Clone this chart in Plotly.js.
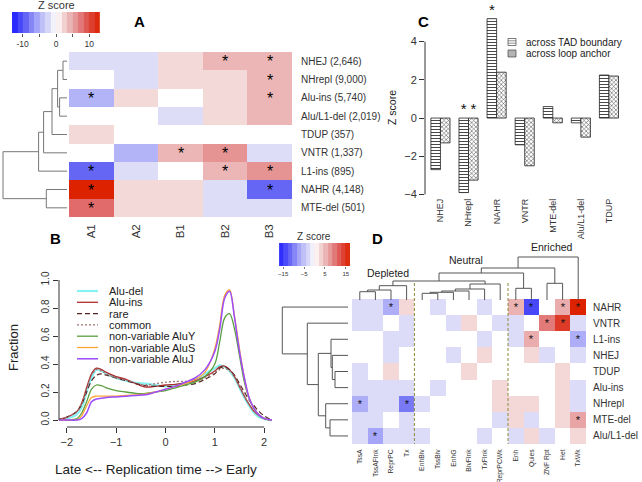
<!DOCTYPE html>
<html>
<head>
<meta charset="utf-8">
<script src="https://cdn.plot.ly/plotly-3.0.1.min.js"></script>
<style>html,body{margin:0;padding:0;background:#fff}#chart{width:642px;height:482px}</style>
</head>
<body>
<div id="chart"></div>
<script>
// ---- Panel A: Z score heatmap (rows = SV mechanism, cols = compartment)
const aCols = ['A1', 'A2', 'B1', 'B2', 'B3'];
const aRows = ['NHEJ (2,646)', 'NHrepl (9,000)', 'Alu-ins (5,740)', 'Alu/L1-del (2,019)', 'TDUP (357)',
  'VNTR (1,337)', 'L1-ins (895)', 'NAHR (4,148)', 'MTE-del (501)'];
const aZ = [
  [-2, -2, 2, 4, 4],
  [0, -2, 2, 2, 4],
  [-5, 2, 0, 2, 4],
  [0, 0, -2, 2, 4],
  [2, 0, 0, 0, 0],
  [0, -5, 4, 6, -2],
  [-9, -2, 0, 4, 6],
  [13, 2, 2, -2, -9],
  [8, 2, 2, -2, -2]
];
const aSig = [
  [0, 0, 0, 1, 1],
  [0, 0, 0, 0, 1],
  [1, 0, 0, 0, 1],
  [0, 0, 0, 0, 0],
  [0, 0, 0, 0, 0],
  [0, 0, 1, 1, 0],
  [1, 0, 0, 1, 1],
  [1, 0, 0, 0, 1],
  [1, 0, 0, 0, 0]
];
// linkage: [childA, childB, height]; new nodes numbered after the leaves
const aRowLinks = [[0, 1, 4], [2, 3, 7.4], [9, 10, 9.4], [11, 4, 15], [12, 5, 23.4], [13, 6, 28.4], [7, 8, 20.7], [14, 15, 64]];
const aKeyLevels = [-12.4, -10.7, -9.1, -7.4, -5.8, -4.1, -2.5, -0.8, 0.8, 2.5, 4.1, 5.8, 7.4, 9.1, 10.7, 12.4];

// ---- Panel B: replication time densities
const repTime = [-2.2, -2.0, -1.8, -1.7, -1.6, -1.5, -1.4, -1.3, -1.2, -1.0, -0.8, -0.6, -0.4, -0.2, 0, 0.2,
  0.4, 0.6, 0.8, 1.0, 1.1, 1.2, 1.3, 1.4, 1.5, 1.6, 1.7, 1.8, 1.9, 2.0, 2.1, 2.2];
const aluDel = [0, 0.01, 0.04, 0.09, 0.20, 0.30, 0.36, 0.35, 0.33, 0.30, 0.28, 0.265, 0.26, 0.25, 0.24, 0.25,
  0.26, 0.28, 0.33, 0.37, 0.39, 0.38, 0.35, 0.30, 0.23, 0.16, 0.10, 0.05, 0.02, 0.01, 0, 0];
const aluIns = [0, 0.02, 0.06, 0.12, 0.23, 0.33, 0.37, 0.36, 0.34, 0.31, 0.29, 0.26, 0.235, 0.24, 0.25, 0.255,
  0.265, 0.28, 0.31, 0.35, 0.38, 0.385, 0.36, 0.31, 0.24, 0.17, 0.11, 0.06, 0.03, 0.01, 0.003, 0];
const rare = [0, 0.02, 0.06, 0.11, 0.20, 0.28, 0.32, 0.33, 0.32, 0.30, 0.28, 0.26, 0.245, 0.24, 0.24, 0.24,
  0.25, 0.26, 0.29, 0.33, 0.37, 0.38, 0.36, 0.32, 0.26, 0.20, 0.14, 0.10, 0.06, 0.03, 0.01, 0.003];
const common = [0, 0.02, 0.06, 0.12, 0.22, 0.32, 0.36, 0.35, 0.33, 0.30, 0.285, 0.265, 0.25, 0.26, 0.27, 0.275,
  0.275, 0.28, 0.30, 0.34, 0.36, 0.37, 0.35, 0.31, 0.24, 0.17, 0.11, 0.06, 0.03, 0.01, 0, 0];
const aluY = [0, 0, 0.01, 0.05, 0.13, 0.22, 0.25, 0.245, 0.23, 0.21, 0.20, 0.19, 0.19, 0.20, 0.21, 0.23,
  0.25, 0.27, 0.31, 0.40, 0.56, 0.73, 0.76, 0.65, 0.46, 0.27, 0.15, 0.08, 0.035, 0.012, 0.003, 0];
const aluS = [0, 0, 0, 0.03, 0.10, 0.16, 0.17, 0.17, 0.17, 0.17, 0.175, 0.18, 0.185, 0.20, 0.22, 0.24,
  0.26, 0.29, 0.34, 0.51, 0.68, 0.89, 0.93, 0.74, 0.51, 0.30, 0.155, 0.08, 0.035, 0.012, 0.003, 0];
const aluJ = [0, 0, 0, 0.01, 0.05, 0.13, 0.15, 0.155, 0.16, 0.165, 0.17, 0.175, 0.18, 0.20, 0.22, 0.24,
  0.27, 0.30, 0.36, 0.49, 0.65, 0.87, 0.92, 0.73, 0.49, 0.30, 0.155, 0.08, 0.035, 0.012, 0.003, 0];

// ---- Panel C: Z score across TAD boundary / loop anchor
const cTypes = ['NHEJ', 'NHrepl', 'NAHR', 'VNTR', 'MTE-del', 'Alu/L1-del', 'TDUP'];
const cTad = [-2.7, -3.9, 5.2, -1.4, 0.6, -0.25, 2.25];
const cLoop = [-1.3, -3.25, 2.4, -2.5, -0.25, -1.0, 2.2];
const cTadSig = [0, 1, 1, 0, 0, 0, 0];
const cLoopSig = [0, 1, 0, 0, 0, 0, 0];

// ---- Panel D: chromatin state heatmap
const dCols = ['TssA', 'TssAFlnk', 'ReprPC', 'Tx', 'EnhBiv', 'TssBiv', 'EnhG', 'BivFlnk', 'TxFlnk', 'ReprPCWk',
  'Enh', 'Quies', 'ZNF Rpt', 'Het', 'TxWk'];
const dRows = ['NAHR', 'VNTR', 'L1-ins', 'NHEJ', 'TDUP', 'Alu-ins', 'NHrepl', 'MTE-del', 'Alu/L1-del'];
const dZ = [
  [-2.7, -2.7, -7, 2.7, 0, -2.7, 0, 0, -2.7, 0, 5.5, -14, 0, 6, 17],
  [-2.7, -2.7, 0, -2.7, 0, 0, -2.7, 2.7, 0, -2.7, -2.7, 0, 9.5, 14.5, -2.7],
  [0, 0, -2.7, -2.7, 0, 0, 0, 0, -2.7, 0, -2.7, 6, 0, 0, -7],
  [0, 0, -2.7, 0, 0, 0, -2.7, 0, 2.7, 0, 0, 2.7, -2.7, 0, -2.7],
  [-2.7, 0, 2.7, 0, 0, 0, 0, 2.7, 0, 0, 0, 0, 0, 2.7, 0],
  [-2.7, -2.7, -2.7, -2.7, 0, -2.7, 0, 0, 0, 2.7, 0, 0, 0, 2.7, -2.7],
  [-7, -2.7, -2.7, -10.5, -2.7, 0, 0, 0, 0, 2.7, 2.7, 2.7, 0, 2.7, -2.7],
  [-2.7, -2.7, 0, -2.7, 0, 0, 0, 0, 0, -2.7, 2.7, -2.7, 0, 2.7, 6.5],
  [-2.7, -7.5, -2.7, -2.7, -2.7, 0, 0, 0, -2.7, 0, -2.7, 2.7, -2.7, 0, 2.7]
];
const dSig = [
  [0, 0, 1, 0, 0, 0, 0, 0, 0, 0, 1, 1, 0, 1, 1],
  [0, 0, 0, 0, 0, 0, 0, 0, 0, 0, 0, 0, 1, 1, 0],
  [0, 0, 0, 0, 0, 0, 0, 0, 0, 0, 0, 1, 0, 0, 1],
  [0, 0, 0, 0, 0, 0, 0, 0, 0, 0, 0, 0, 0, 0, 0],
  [0, 0, 0, 0, 0, 0, 0, 0, 0, 0, 0, 0, 0, 0, 0],
  [0, 0, 0, 0, 0, 0, 0, 0, 0, 0, 0, 0, 0, 0, 0],
  [1, 0, 0, 1, 0, 0, 0, 0, 0, 0, 0, 0, 0, 0, 0],
  [0, 0, 0, 0, 0, 0, 0, 0, 0, 0, 0, 0, 0, 0, 1],
  [0, 1, 0, 0, 0, 0, 0, 0, 0, 0, 0, 0, 0, 0, 0]
];
const dGroupNames = ['Depleted', 'Neutral', 'Enriched'];
const dGroupSizes = [4, 6, 5];
const dRowLinks = [[4, 5, 13], [3, 9, 15.7], [2, 10, 17], [7, 8, 18], [6, 12, 22.3], [11, 13, 29.7], [1, 14, 40.7], [0, 15, 65.7]];
const dColLinks = [[0, 1, 8.3], [15, 2, 10], [16, 3, 14.3], [4, 5, 6.7], [18, 6, 7.7], [19, 7, 9], [20, 8, 11],
  [21, 9, 16], [17, 22, 19], [10, 11, 11.7], [23, 24, 27], [12, 13, 16.7], [25, 26, 32], [27, 14, 43]];
const dKeyLevels = [-15.9, -13.8, -11.7, -9.6, -7.4, -5.3, -3.2, -1.1, 1.1, 3.2, 5.3, 7.4, 9.6, 11.7, 13.8, 15.9];

// ---- helpers
const W = 642, H = 482;
const FONT = 'Arial, "Liberation Sans", sans-serif';
const NARROW = '"Liberation Sans Narrow", "Arial Narrow", Arial, sans-serif';
const dx = (a, b) => [a / W, b / W];
const dy = (top, bottom) => [1 - bottom / H, 1 - top / H];
const px = v => v / W;
const py = v => 1 - v / H;
const idx = n => Array.from({ length: n }, (_, i) => i);

const zColors = [[0, '#2020ff'], [0.15, '#6464f5'], [0.3, '#b0b0f8'], [0.42, '#dcdcf8'], [0.5, '#ffffff'],
  [0.58, '#f4d8d8'], [0.66, '#ebb3b3'], [0.74, '#e58f8f'], [0.82, '#e06565'], [0.91, '#dd4030'], [1, '#dd2200']];

// dendrogram segments: p = leaf-order position, h = merge height
function dendro(links, n) {
  const pos = [], hgt = [], p = [], h = [];
  for (let i = 0; i < n; i++) { pos.push(i); hgt.push(0); }
  links.forEach(([a, b, ht]) => {
    p.push(pos[a], pos[a], pos[b], pos[b], null);
    h.push(hgt[a], ht, ht, hgt[b], null);
    pos.push((pos[a] + pos[b]) / 2);
    hgt.push(ht);
  });
  return { p, h };
}
const starText = m => m.map(r => r.map(s => (s ? '*' : '')));

const dA = dendro(aRowLinks, aRows.length);
const dR = dendro(dRowLinks, dRows.length);
const dC = dendro(dColLinks, dCols.length);

const bSeries = [
  { name: 'Alu-del', y: aluDel, color: '#86f2f2', width: 2.2, dash: 'solid' },
  { name: 'Alu-ins', y: aluIns, color: '#b02c2c', width: 1.3, dash: 'solid' },
  { name: 'rare', y: rare, color: '#5a2424', width: 1.2, dash: '5px,3px' },
  { name: 'common', y: common, color: '#a07474', width: 1.3, dash: '2px,2px' },
  { name: 'non-variable AluY', y: aluY, color: '#5a9e3e', width: 1.3, dash: 'solid' },
  { name: 'non-variable AluS', y: aluS, color: '#ffa53a', width: 1.3, dash: 'solid' },
  { name: 'non-variable AluJ', y: aluJ, color: '#9b4dff', width: 1.5, dash: 'solid' }
];

const starX = [], starY = [];
cTypes.forEach((_, i) => {
  if (cTadSig[i]) { starX.push(i - 0.17); starY.push(Math.max(cTad[i], 0)); }
  if (cLoopSig[i]) { starX.push(i + 0.17); starY.push(Math.max(cLoop[i], 0)); }
});

const traces = [
  // A
  { type: 'scatter', mode: 'lines', x: dA.h, y: dA.p, xaxis: 'x2', yaxis: 'y', line: { color: '#777', width: 1 } },
  { type: 'heatmap', x: idx(aCols.length), y: idx(aRows.length), z: aZ, zmin: -13, zmax: 13, colorscale: zColors,
    showscale: false, text: starText(aSig), texttemplate: '%{text}', textfont: { size: 16, color: '#000', family: FONT },
    xaxis: 'x', yaxis: 'y' },
  { type: 'heatmap', x: aKeyLevels, y: [0], z: [aKeyLevels], zmin: -13, zmax: 13, colorscale: zColors,
    showscale: false, xaxis: 'x7', yaxis: 'y7' },
  // D
  { type: 'scatter', mode: 'lines', x: dR.h, y: dR.p, xaxis: 'x4', yaxis: 'y3', line: { color: '#555', width: 1 } },
  { type: 'scatter', mode: 'lines', x: dC.p, y: dC.h, xaxis: 'x3', yaxis: 'y4', line: { color: '#555', width: 1 } },
  { type: 'heatmap', x: idx(dCols.length), y: idx(dRows.length), z: dZ, zmin: -17, zmax: 17, colorscale: zColors,
    showscale: false, text: starText(dSig), texttemplate: '%{text}', textfont: { size: 11, color: '#111', family: FONT },
    xaxis: 'x3', yaxis: 'y3' },
  { type: 'heatmap', x: dKeyLevels, y: [0], z: [dKeyLevels], zmin: -17, zmax: 17, colorscale: zColors,
    showscale: false, xaxis: 'x8', yaxis: 'y8' },
  // C
  { type: 'bar', x: idx(cTypes.length), y: cTad, offset: -0.34, width: 0.34, xaxis: 'x5', yaxis: 'y5',
    marker: { color: '#fff', line: { color: '#222', width: 0.8 },
      pattern: { shape: '-', size: 3, solidity: 0.3, fgcolor: '#333', bgcolor: '#fff', fillmode: 'replace' } } },
  { type: 'bar', x: idx(cTypes.length), y: cLoop, offset: 0, width: 0.34, xaxis: 'x5', yaxis: 'y5',
    marker: { color: '#fff', line: { color: '#222', width: 0.8 },
      pattern: { shape: 'x', size: 3, solidity: 0.35, fgcolor: '#555', bgcolor: '#fff', fillmode: 'replace' } } },
  { type: 'scatter', mode: 'text', x: starX, y: starY, text: starX.map(() => '*'), textposition: 'top center',
    textfont: { size: 15, color: '#111', family: FONT }, xaxis: 'x5', yaxis: 'y5', cliponaxis: false }
];
// B
bSeries.forEach(s => traces.push({
  type: 'scatter', mode: 'lines', x: repTime, y: s.y, name: s.name, xaxis: 'x6', yaxis: 'y6',
  line: { color: s.color, width: s.width, dash: s.dash, shape: 'spline', smoothing: 0.9 }
}));

const hidden = { visible: false, showgrid: false, zeroline: false };
const axFont = (size, fam) => ({ size, color: '#333', family: fam || FONT });

const shapes = [];
const annotations = [];
const ann = (text, x, y, o) => annotations.push(Object.assign({
  text, x, y, xref: 'paper', yref: 'paper', xanchor: 'center', yanchor: 'middle', showarrow: false,
  font: { size: 11, color: '#222', family: FONT }
}, o || {}));

// panel letters
[['A', 139, 22], ['B', 55, 238], ['C', 423, 22], ['D', 377, 238]].forEach(([t, x, y]) =>
  ann('<b>' + t + '</b>', px(x), py(y), { font: { size: 15, color: '#000', family: FONT } }));

// key titles
ann('Z score', px(56), py(5), { font: { size: 11, color: '#333', family: FONT } });
ann('Z score', px(314), py(236), { font: { size: 10, color: '#333', family: FONT } });

// axis titles
ann('Fraction', px(13), py(348), { textangle: -90, font: { size: 13, color: '#222', family: FONT } });
ann('Late <-- Replication time --> Early', px(156), py(469), { font: { size: 13.5, color: '#222', family: FONT } });
ann('Z score', px(392), py(108), { textangle: -90, font: { size: 10.5, color: '#222', family: NARROW } });

// B axis lines (R style, only across the tick range)
shapes.push({ type: 'line', xref: 'x6', yref: 'y6 domain', x0: -2, x1: 2, y0: 0, y1: 0, line: { color: '#333', width: 1 } });
shapes.push({ type: 'line', xref: 'x6 domain', yref: 'y6', x0: 0, x1: 0, y0: 0, y1: 1, line: { color: '#333', width: 1 } });
// C axis line
shapes.push({ type: 'line', xref: 'x5 domain', yref: 'y5', x0: 0, x1: 0, y0: -4, y1: 4, line: { color: '#333', width: 1 } });

// B legend
bSeries.forEach((s, i) => {
  const y = 291 + i * 11.3;
  shapes.push({ type: 'line', xref: 'paper', yref: 'paper', x0: px(77), x1: px(98), y0: py(y), y1: py(y),
    line: { color: s.color, width: s.width, dash: s.dash } });
  ann(s.name, px(107), py(y), { xanchor: 'left', font: { size: 11, color: '#222', family: FONT } });
});

// C legend
['across TAD boundary', 'across loop anchor'].forEach((t, i) => {
  const y = 42 + i * 11.5;
  shapes.push({ type: 'rect', xref: 'paper', yref: 'paper', x0: px(508), x1: px(516), y0: py(y - 3.5), y1: py(y + 3.5),
    fillcolor: i ? '#b4b4b4' : '#fff', line: { color: '#444', width: 0.7 } });
  if (!i) [-1.2, 1.2].forEach(o => shapes.push({ type: 'line', xref: 'paper', yref: 'paper', x0: px(508), x1: px(516),
    y0: py(y + o), y1: py(y + o), line: { color: '#444', width: 0.6 } }));
  ann(t, px(524), py(y), { xanchor: 'left', font: { size: 10, color: '#222', family: FONT } });
});

// D group separators and labels
let acc = 0;
const groupLabelY = [273, 260, 247];
dGroupSizes.forEach((n, g) => {
  ann(dGroupNames[g], acc + (n - 1) / 2 + 0.3, py(groupLabelY[g]), { xref: 'x3', font: { size: 10.5, color: '#222', family: FONT } });
  acc += n;
  if (g < dGroupSizes.length - 1) shapes.push({ type: 'line', xref: 'x3', yref: 'paper', x0: acc - 0.5, x1: acc - 0.5,
    y0: py(283), y1: py(444), line: { color: '#8a8a3a', width: 1, dash: '3px,2px' } });
});

const layout = {
  width: W, height: H, margin: { l: 0, r: 0, t: 0, b: 0 },
  paper_bgcolor: '#fff', plot_bgcolor: 'rgba(0,0,0,0)',
  showlegend: false, hovermode: false, font: { family: FONT, color: '#222' },
  // A heatmap
  xaxis: { domain: dx(69, 292), range: [-0.5, 4.5], anchor: 'y', tickvals: idx(aCols.length), ticktext: aCols,
    tickangle: -90, ticks: '', ticklabelstandoff: 4, tickfont: axFont(11.5), showgrid: false, zeroline: false },
  yaxis: { domain: dy(52, 217), range: [8.5, -0.5], anchor: 'x', side: 'right', tickvals: idx(aRows.length),
    ticktext: aRows, ticks: '', ticklabelstandoff: 8, tickfont: axFont(10), showgrid: false, zeroline: false },
  xaxis2: Object.assign({ domain: dx(2, 67), range: [65, 0], anchor: 'y' }, hidden),
  // D heatmap
  xaxis3: { domain: dx(352, 586), range: [-0.5, 14.5], anchor: 'y3', tickvals: idx(dCols.length), ticktext: dCols,
    tickangle: -90, ticks: '', ticklabelstandoff: 3, tickfont: axFont(6.8, NARROW), showgrid: false, zeroline: false },
  yaxis3: { domain: dy(299, 444), range: [8.5, -0.5], anchor: 'x3', side: 'right', tickvals: idx(dRows.length),
    ticktext: dRows, ticks: '', ticklabelstandoff: 6, tickfont: axFont(10), showgrid: false, zeroline: false },
  xaxis4: Object.assign({ domain: dx(280, 348), range: [68, 0], anchor: 'y3' }, hidden),
  yaxis4: Object.assign({ domain: dy(256, 300), range: [0, 44], anchor: 'x3' }, hidden),
  // C bars
  xaxis5: { domain: dx(425, 623), range: [-0.55, 6.5], anchor: 'y5', tickvals: idx(cTypes.length), ticktext: cTypes,
    tickangle: -90, ticks: '', tickfont: axFont(9, NARROW), showgrid: false, zeroline: false, showline: false },
  yaxis5: { domain: dy(8, 196), range: [-4.08, 5.76], anchor: 'x5', tickvals: [-4, -2, 0, 2, 4], ticks: 'outside',
    ticklen: 5, tickcolor: '#333', tickfont: axFont(11), showgrid: false, zeroline: false, showline: false },
  // B lines
  xaxis6: { domain: dx(59, 272), range: [-2.16, 2.16], anchor: 'y6', tickvals: [-2, -1, 0, 1, 2], ticks: 'outside',
    ticklen: 5, tickcolor: '#333', tickfont: axFont(11), showgrid: false, zeroline: false, showline: false },
  yaxis6: { domain: dy(277, 427), range: [-0.05, 1.0214], anchor: 'x6', tickvals: [0, 0.2, 0.4, 0.6, 0.8, 1],
    ticktext: ['0.0', '0.2', '0.4', '0.6', '0.8', '1.0'], tickangle: -90, ticks: 'outside', ticklen: 5,
    tickcolor: '#333', tickfont: axFont(10), showgrid: false, zeroline: false, showline: false },
  // keys
  xaxis7: { domain: dx(12, 100), range: [-13.2, 13.2], anchor: 'y7', tickvals: [-10, -5, 0, 5, 10],
    ticktext: ['-10', '', '0', '', '10'], ticks: 'outside', ticklen: 3, tickcolor: '#555',
    tickfont: axFont(8.5), showgrid: false, zeroline: false },
  yaxis7: Object.assign({ domain: dy(12, 33), range: [-0.5, 0.5], anchor: 'x7' }, hidden),
  xaxis8: { domain: dx(279, 350), range: [-17, 17], anchor: 'y8', tickvals: [-15, -5, 5, 15], ticks: 'outside',
    ticklen: 2, tickcolor: '#777', tickfont: axFont(6), showgrid: false, zeroline: false },
  yaxis8: Object.assign({ domain: dy(243, 266), range: [-0.5, 0.5], anchor: 'x8' }, hidden),
  shapes, annotations
};

Plotly.newPlot('chart', traces, layout, { staticPlot: true, displayModeBar: false });
</script>
</body>
</html>
